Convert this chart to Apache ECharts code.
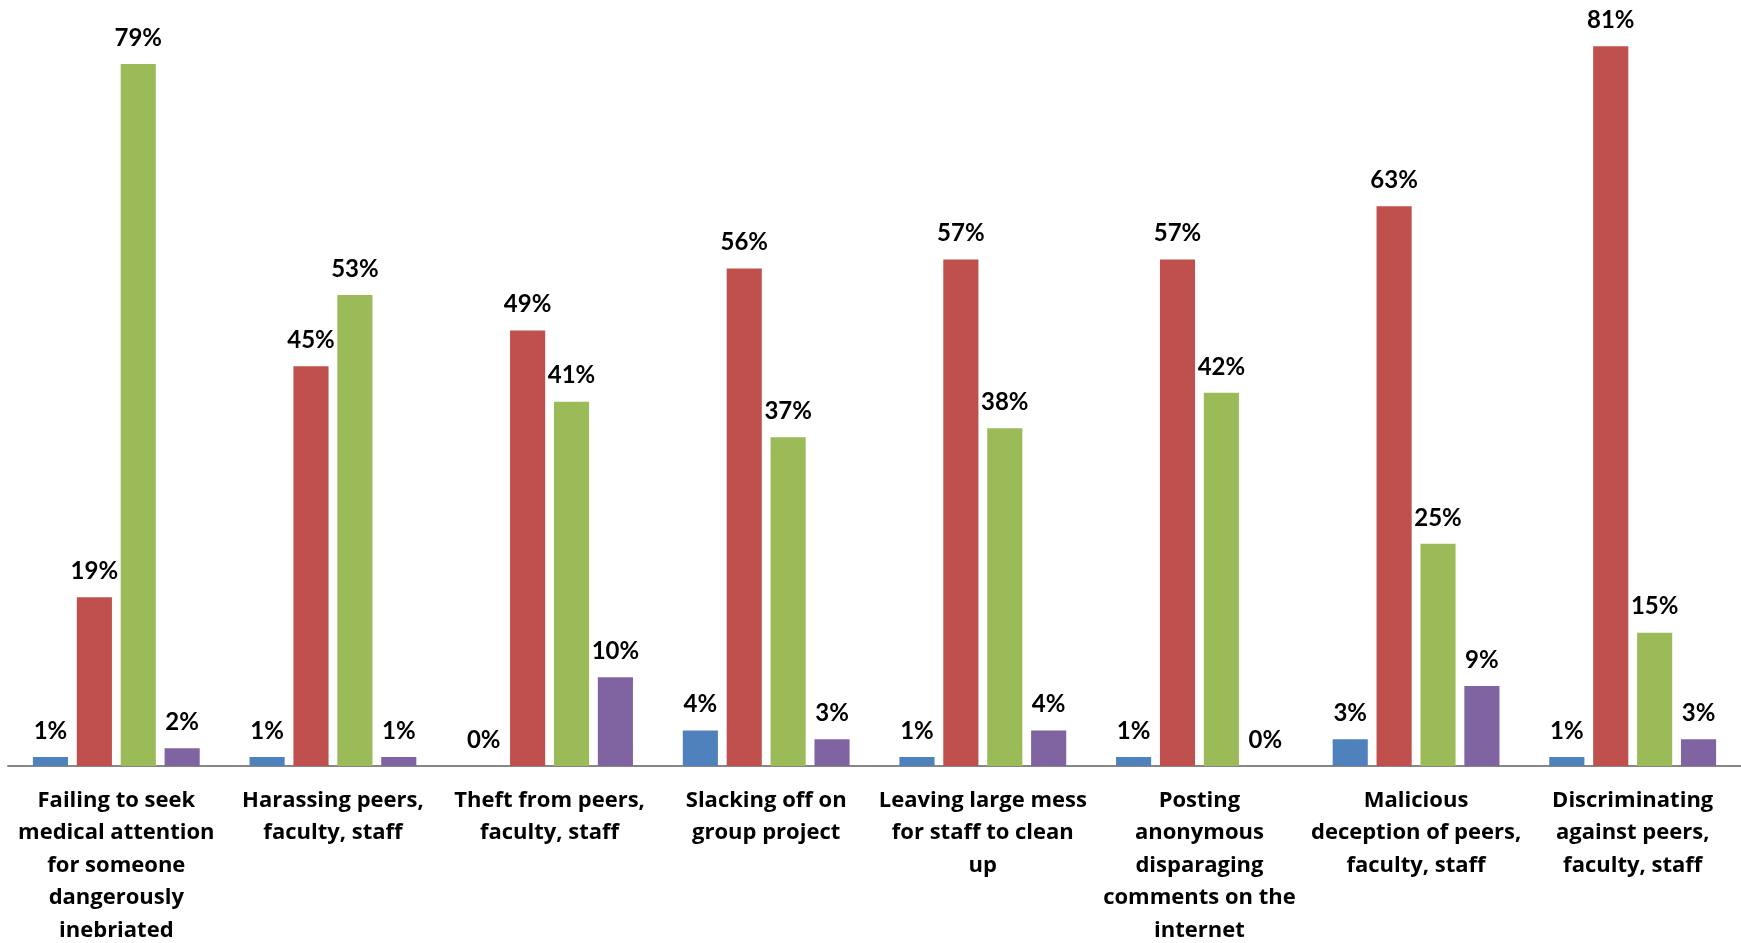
<!DOCTYPE html>
<html>
<head>
<meta charset="utf-8">
<style>
  html, body { margin: 0; padding: 0; background: #ffffff; }
  #chart { width: 1741px; height: 943px; }
</style>
<script src="https://cdn.jsdelivr.net/npm/echarts@6/dist/echarts.min.js"></script>
</head>
<body>
<div id="chart"></div>
<script>
// Behaviour categories (line breaks as they wrap under each group)
const categories = [
  'Failing to seek\nmedical attention\nfor someone\ndangerously\ninebriated',
  'Harassing peers,\nfaculty, staff',
  'Theft from peers,\nfaculty, staff',
  'Slacking off on\ngroup project',
  'Leaving large mess\nfor staff to clean\nup',
  'Posting\nanonymous\ndisparaging\ncomments on the\ninternet',
  'Malicious\ndeception of peers,\nfaculty, staff',
  'Discriminating\nagainst peers,\nfaculty, staff'
];

// Percentages for each of the four response groups
const seriesBlue   = [1, 1, 0, 4, 1, 1, 3, 1];
const seriesRed    = [19, 45, 49, 56, 57, 57, 63, 81];
const seriesGreen  = [79, 53, 41, 37, 38, 42, 25, 15];
const seriesPurple = [2, 1, 10, 3, 4, 0, 9, 3];

const colors = ['#4F81BD', '#C0504D', '#9BBB59', '#8064A2'];
const VALUE_FONT = 'Lato, "Open Sans", sans-serif';
const AXIS_FONT = '"Open Sans", Lato, sans-serif';

function barSeries(data, color) {
  return {
    type: 'bar',
    data: data,
    barGap: '25%',
    barCategoryGap: '23%',
    itemStyle: { color: color },
    label: {
      show: true,
      position: 'top',
      distance: 14,
      formatter: '{c}%',
      fontFamily: VALUE_FONT,
      fontWeight: 'bold',
      fontSize: 24,
      color: '#000000'
    }
  };
}

const chart = echarts.init(document.getElementById('chart'));
chart.setOption({
  animation: false,
  grid: {
    left: 8, right: 0, top: 19.6, bottom: 177,
    containLabel: false,
    outerBoundsMode: 'none'
  },
  xAxis: {
    type: 'category',
    data: categories,
    axisTick: { show: false },
    axisLine: { lineStyle: { color: '#868686', width: 2 } },
    axisLabel: {
      interval: 0,
      margin: 18,
      fontFamily: AXIS_FONT,
      fontWeight: 'bold',
      fontSize: 22,
      lineHeight: 32.5,
      color: '#000000',
      align: 'center'
    }
  },
  yAxis: {
    type: 'value',
    min: 0,
    max: 84,
    show: false,
    splitLine: { show: false }
  },
  series: [
    barSeries(seriesBlue, colors[0]),
    barSeries(seriesRed, colors[1]),
    barSeries(seriesGreen, colors[2]),
    barSeries(seriesPurple, colors[3])
  ]
});
</script>
</body>
</html>
